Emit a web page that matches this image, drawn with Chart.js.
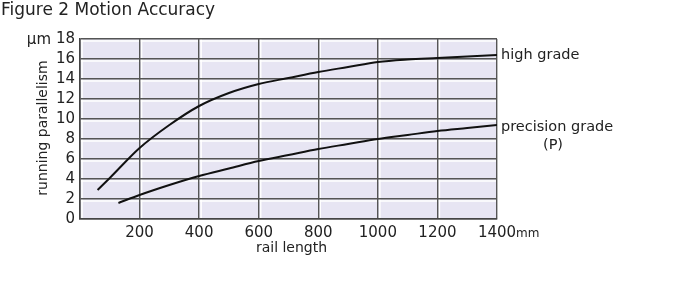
<!DOCTYPE html>
<html>
<head>
<meta charset="utf-8">
<script src="https://cdn.jsdelivr.net/npm/chart.js@4/dist/chart.umd.min.js"></script>
<style>
  html, body { margin: 0; padding: 0; background: #fff; }
  #wrap { width: 689px; height: 290px; position: relative; }
</style>
</head>
<body>
<div id="wrap"><canvas id="chart"></canvas></div>
<script>
// values (x in mm, y in µm)
const highX = [59, 100, 200, 300, 400, 500, 600, 700, 800, 900, 1000, 1100, 1200, 1300, 1400];
const highY = [2.9, 4.1, 7.1, 9.4, 11.3, 12.6, 13.5, 14.1, 14.7, 15.2, 15.7, 15.95, 16.1, 16.25, 16.4];
const precX = [129, 200, 300, 400, 500, 600, 700, 800, 900, 1000, 1100, 1200, 1300, 1400];
const precY = [1.6, 2.4, 3.4, 4.3, 5.05, 5.8, 6.4, 7.0, 7.5, 8.0, 8.4, 8.8, 9.1, 9.4];
const seriesNames = ['high grade', 'precision grade'];
const xTicks = [0, 200, 400, 600, 800, 1000, 1200, 1400];
const yTicks = [0, 2, 4, 6, 8, 10, 12, 14, 16, 18];

const FONT = '"DejaVu Sans", sans-serif';
const TXT = '#222';

const pts = (xs, ys) => xs.map((x, i) => ({ x: x, y: ys[i] }));

// lavender plot background + white "emboss" lines beside the grid
const paperPlugin = {
  id: 'paper',
  beforeDraw(chart) {
    const { ctx, chartArea: a, scales: { x, y } } = chart;
    ctx.save();
    ctx.fillStyle = '#e7e5f3';
    ctx.fillRect(a.left, a.top, a.right - a.left, a.bottom - a.top);
    ctx.strokeStyle = '#ffffff';
    ctx.lineWidth = 1.5;
    yTicks.forEach(v => {
      const py = y.getPixelForValue(v) + 2;
      if (py > a.bottom) return;
      ctx.beginPath(); ctx.moveTo(a.left, py); ctx.lineTo(a.right, py); ctx.stroke();
    });
    xTicks.forEach(v => {
      const px = x.getPixelForValue(v) + 2;
      if (px > a.right) return;
      ctx.beginPath(); ctx.moveTo(px, a.top); ctx.lineTo(px, a.bottom); ctx.stroke();
    });
    ctx.restore();
  },
  afterDraw(chart) {
    const { ctx, chartArea: a, scales: { x, y } } = chart;
    ctx.save();
    ctx.fillStyle = TXT;
    ctx.textBaseline = 'middle';

    // title
    ctx.font = '17px ' + FONT;
    ctx.textAlign = 'left';
    ctx.fillText('Figure 2 Motion Accuracy', 1, 11);

    // unit on y axis
    ctx.font = '15px ' + FONT;
    ctx.textAlign = 'right';
    ctx.fillText('\u03bcm', 51, y.getPixelForValue(18) + 1);

    // unit after last x tick
    ctx.font = '15px ' + FONT;
    const w1400 = ctx.measureText('1400').width;
    ctx.font = '12px ' + FONT;
    ctx.textAlign = 'left';
    ctx.fillText('mm', x.getPixelForValue(1400) + w1400 / 2, 234);

    // axis titles
    ctx.font = '14px ' + FONT;
    ctx.textAlign = 'center';
    ctx.fillText('rail length', (a.left + a.right) / 2 + 3, 248);
    ctx.save();
    ctx.translate(43, (a.top + a.bottom) / 2 - 1);
    ctx.rotate(-Math.PI / 2);
    ctx.fillText('running parallelism', 0, 0);
    ctx.restore();

    // curve labels at line ends
    ctx.font = '14.5px ' + FONT;
    ctx.textAlign = 'left';
    ctx.fillText(seriesNames[0], a.right + 4, y.getPixelForValue(highY[highY.length - 1]));
    ctx.fillText(seriesNames[1], a.right + 4, y.getPixelForValue(precY[precY.length - 1]) + 2);
    ctx.textAlign = 'center';
    ctx.fillText('(P)', a.right + 56, y.getPixelForValue(precY[precY.length - 1]) + 20);
    ctx.restore();
  }
};

new Chart(document.getElementById('chart'), {
  type: 'line',
  data: {
    datasets: [
      { label: seriesNames[0], data: pts(highX, highY) },
      { label: seriesNames[1], data: pts(precX, precY) }
    ]
  },
  options: {
    responsive: true,
    maintainAspectRatio: false,
    animation: false,
    layout: { padding: { left: 0, right: 192, top: 39, bottom: 0 } },
    elements: {
      line: { borderColor: '#111', borderWidth: 2, cubicInterpolationMode: 'monotone', fill: false },
      point: { radius: 0 }
    },
    plugins: { legend: { display: false }, tooltip: { enabled: false } },
    scales: {
      x: {
        type: 'linear',
        min: 0, max: 1400,
        afterFit(s) { s.height = 71; },
        afterBuildTicks(s) { s.ticks = xTicks.map(v => ({ value: v })); },
        ticks: {
          color: TXT, font: { family: FONT, size: 15 }, padding: 5, maxRotation: 0, autoSkip: false,
          callback: v => (v === 0 ? '' : String(v))
        },
        grid: { color: '#555', lineWidth: 1.4, drawTicks: false },
        border: { color: '#444', width: 1.6 }
      },
      y: {
        min: 0, max: 18,
        afterFit(s) { s.width = 80; },
        afterBuildTicks(s) { s.ticks = yTicks.map(v => ({ value: v })); },
        ticks: { color: TXT, font: { family: FONT, size: 15 }, padding: 5, autoSkip: false },
        grid: { color: '#555', lineWidth: 1.4, drawTicks: false },
        border: { color: '#444', width: 1.6 }
      }
    }
  },
  plugins: [paperPlugin]
});
</script>
</body>
</html>
